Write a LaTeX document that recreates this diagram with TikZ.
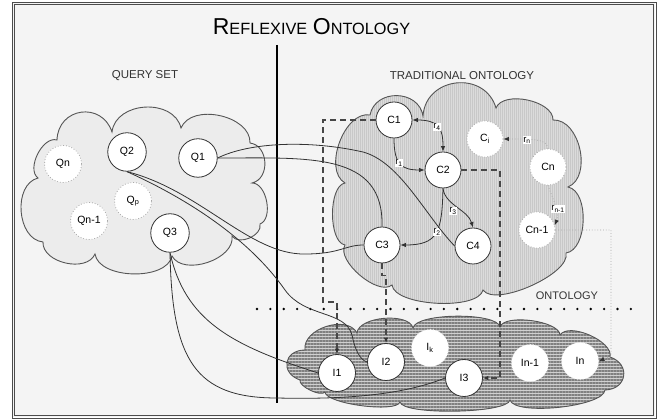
\documentclass[tikz,border=0pt]{standalone}
\usepackage{fontspec}
\setmainfont{Liberation Sans}
\usetikzlibrary{arrows.meta,patterns.meta}
\definecolor{bgc}{HTML}{F4F4F4}
\definecolor{qfill}{HTML}{ECECEC}
\definecolor{tfill}{HTML}{DBDBDB}
\definecolor{tline}{HTML}{C8C8C8}
\definecolor{ifill}{HTML}{D0D0D0}
\definecolor{iline}{HTML}{808080}
\definecolor{edgec}{HTML}{333333}
\definecolor{cloudc}{HTML}{555555}
\definecolor{dotc}{HTML}{AAAAAA}
\definecolor{txtc}{HTML}{333333}
\begin{document}
\begin{tikzpicture}[x=1pt,y=-1pt,
  pf/.style={bend left=80,looseness=#1},
  cloudline/.style={draw=cloudc,line width=0.9pt},
  qnode/.style={circle,draw=edgec,fill=white,line width=0.8pt,minimum size=38.5pt,inner sep=0pt,text=black,font=\fontsize{10.5}{12}\selectfont},
  cnode/.style={qnode,minimum size=36pt},
  dnode/.style={circle,draw=dotc,dotted,fill=white,line width=0.8pt,minimum size=37pt,inner sep=0pt,text=black,font=\fontsize{10.5}{12}\selectfont},
  wnode/.style={dnode,draw=white!85!gray},
  seclabel/.style={text=txtc,font=\fontsize{11.5}{13}\selectfont,inner sep=0pt},
  elab/.style={fill=white,inner sep=0.7pt,text=black,font=\fontsize{9.5}{10}\selectfont},
  conn/.style={draw=edgec,line width=0.8pt},
  dsh/.style={draw=edgec!90!white,line width=1.1pt,dash pattern=on 6pt off 4pt},
  dotconn/.style={draw=dotc,line width=0.8pt,dotted},
  tip/.style={-{Latex[length=5.5pt,width=4.5pt,color=edgec]}},
  tips/.style={{Latex[length=5.5pt,width=4.5pt,color=edgec]}-{Latex[length=5.5pt,width=4.5pt,color=edgec]}}
]
\useasboundingbox (0,0) rectangle (659,419);
\fill[white] (0,0) rectangle (659,419);
\fill[bgc] (13,3) rectangle (655,417);
\draw[gray!60!black,line width=0.8pt] (12.3,2) rectangle (656,418);
\draw[gray!60!black,line width=0.8pt] (14.3,4) rectangle (653.5,415.8);

% title and section labels
\node[anchor=base,inner sep=0pt,text=black] (title) at (311.5,34.5)
  {{\fontsize{23}{23}\selectfont R}{\fontsize{16.3}{16}\selectfont EFLEXIVE}\hspace{5.5pt}{\fontsize{23}{23}\selectfont O}{\fontsize{16.3}{16}\selectfont NTOLOGY}};
\node[seclabel] (qset) at (145,76) {QUERY SET};
\node[seclabel] (trad) at (462,76) {TRADITIONAL ONTOLOGY};
\node[seclabel,font=\fontsize{11}{13}\selectfont] (onto) at (567,296) {ONTOLOGY};

% query set cloud
\draw[cloudline,fill=qfill] (38,178) to[pf=0.9] (57,140) to[pf=1.5] (112,132) to[pf=1.15] (181,128)
  to[pf=1.0] (250,143) to[pf=1.2] (252,183) to[pf=0.9] (260,224) to[pf=1.0] (232,236)
  to[pf=0.95] (172,256) to[pf=0.85] (95,254) to[pf=1.0] (43,242) to[pf=1.05] (38,178) -- cycle;

% traditional ontology cloud
\draw[cloudline,preaction={fill=tfill},pattern={Lines[angle=90,distance=2pt,line width=0.6pt]},pattern color=tline]
  (370,115) to[pf=1.3] (423,116) to[pf=1.38] (496,108) to[pf=0.85] (553,120)
  to[pf=1.0] (568,187) to[pf=0.85] (566,253) to[pf=0.6] (483,290) to[pf=0.6] (392,285)
  to[pf=0.75] (345,245) to[pf=0.7] (345,183) to[pf=0.92] (370,115) -- cycle;

% instance cloud
\draw[cloudline,preaction={fill=ifill},pattern={Lines[angle=0,distance=3pt,line width=1.4pt]},pattern color=iline]
  (300,380) to[pf=1.8] (305,350) to[pf=1.0] (357,333) to[pf=0.75] (413,328) to[pf=0.45] (500,327)
  to[pf=0.6] (560,335) to[pf=0.75] (610,357) to[pf=1.7] (605,390) to[pf=0.45] (510,400)
  to[pf=0.32] (400,402) to[pf=0.4] (325,392) to[pf=0.6] (300,380) -- cycle;

% separators
\coordinate (vtop) at (277,45);
\coordinate (vbot) at (277,403);
\draw[black,line width=1.8pt] (vtop) -- (vbot);
\coordinate (dl) at (257,309);
\coordinate (dr) at (632,309);
\draw[black,line width=2.6pt,line cap=round,dash pattern=on 0pt off 13.35pt] (dl) -- (dr);

% query nodes
\node[qnode] (Q2) at (127,152) {Q2};
\node[qnode] (Q1) at (198,158) {Q1};
\node[qnode] (Q3) at (170,233) {Q3};
\node[dnode] (Qn) at (63,164) {Qn};
\node[dnode] (Qp) at (133,201) {Q\textsubscript{p}};
\node[dnode] (Qn1) at (89,221) {Qn-1};

% concept nodes
\node[cnode] (C1) at (394,120) {C1};
\node[cnode] (C2) at (443,170) {C2};
\node[cnode] (C3) at (382,245) {C3};
\node[cnode] (C4) at (473,246) {C4};
\node[dnode,minimum size=36pt] (Ci) at (485,139) {C\textsubscript{i}};
\node[dnode,minimum size=36pt] (Cn) at (548,167) {Cn};
\node[dnode,minimum size=36pt] (Cn1) at (537,230) {Cn-1};

% instance nodes
\node[cnode,minimum size=37pt] (I1) at (337,373) {I1};
\node[cnode,minimum size=37pt] (I2) at (386,362) {I2};
\node[cnode,minimum size=37pt] (I3) at (464,378) {I3};
\node[wnode] (Ik) at (430,348) {I\textsubscript{k}};
\node[wnode] (In1) at (530,363) {In-1};
\node[wnode] (In) at (580,361) {In};

% relations inside the traditional ontology
\draw[conn,tip] (C1.south) .. controls (394,165) and (402,170) .. (C2.west);
\node[elab] (r1) at (399,163) {r\textsubscript{1}};
\draw[conn,tips] (C1.east) .. controls (440,120) and (443,130) .. (C2.north);
\node[elab] (r4) at (437,127) {r\textsubscript{4}};
\draw[conn,tip] (C2.south) .. controls (445,205) and (468,210) .. (C4.north);
\node[elab] (r3) at (453,211) {r\textsubscript{3}};
\draw[conn,tip] (C2.south) .. controls (442,232) and (438,245) .. (C3.east);
\node[elab] (r2) at (437,232) {r\textsubscript{2}};
\draw[dotconn,tip] (Cn.north) .. controls (546,140) and (540,139) .. (Ci.east);
\node[elab] (rn) at (527,140) {r\textsubscript{n}};
\draw[dotconn,tip] (Cn.south) .. controls (553,200) and (560,212) .. (Cn1.15);
\node[elab] (rn1) at (558,209) {r\textsubscript{n-1}};
\coordinate (cnturn) at (611,356);
\draw[dotconn,tip] (Cn1.east) -| (cnturn) -- (In.east);

% query connections
\draw[conn] (Q1.east) .. controls (250,142) and (310,140) .. (363,152) .. controls (400,162) and (425,215) .. (C4.west);
\draw[conn] (Q1.east) .. controls (310,158) and (384,152) .. (C3.north);
\draw[conn] (Q2.south) .. controls (200,190) and (250,255) .. (305,254) .. controls (340,254) and (345,245) .. (C3.west);
\draw[conn] (Q2.south) .. controls (190,200) and (250,240) .. (285,290) .. controls (305,318) and (345,310) .. (352,335) .. controls (355,350) and (360,360) .. (I2.west);
\draw[conn] (Q3.south) .. controls (185,320) and (230,345) .. (I1.west);
\draw[conn] (Q3.south) .. controls (172,360) and (195,398) .. (277,398) .. controls (360,400) and (410,392) .. (I3.west);

% dashed mappings
\draw[dsh,tip] (C1.west) -| (323,302) -| (I1.north);
\draw[dsh,tip] (C2.east) -| (500,378) -- (I3.east);
\draw[dsh,tip] (C3.south) -- ++(0,12) -| (I2.north);
\end{tikzpicture}
\end{document}
